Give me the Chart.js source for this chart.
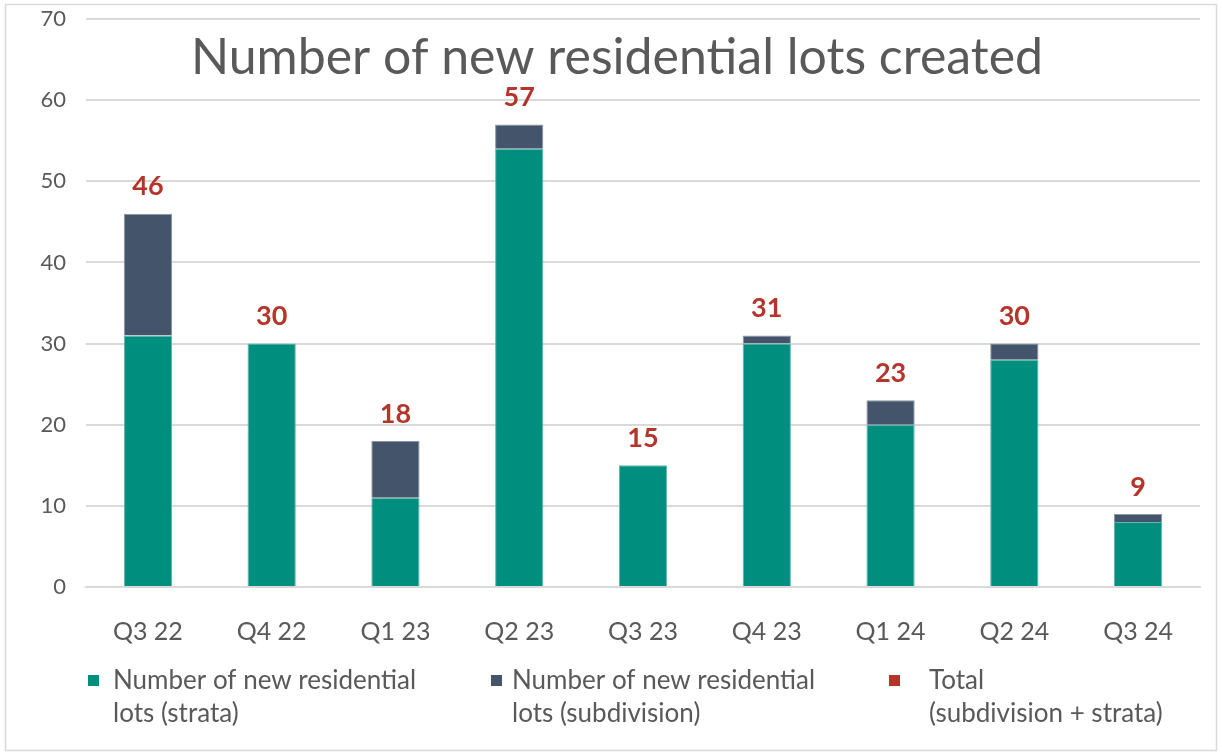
<!DOCTYPE html>
<html>
<head>
<meta charset="utf-8">
<script src="https://cdn.jsdelivr.net/npm/chart.js@4.4.1/dist/chart.umd.min.js"></script>
<style>
  html, body { margin: 0; padding: 0; background: #fff; }
  #wrap { position: relative; width: 1222px; height: 755px; }
</style>
</head>
<body>
<div id="wrap"><canvas id="lots" width="1222" height="755"></canvas></div>
<script>
// data
const quarters = ['Q3 22', 'Q4 22', 'Q1 23', 'Q2 23', 'Q3 23', 'Q4 23', 'Q1 24', 'Q2 24', 'Q3 24'];
const strata = [31, 30, 11, 54, 15, 30, 20, 28, 8];
const subdivision = [15, 0, 7, 3, 0, 1, 3, 2, 1];
const totals = [46, 30, 18, 57, 15, 31, 23, 30, 9];
const seriesNames = [
  ['Number of new residential', 'lots (strata)'],
  ['Number of new residential', 'lots (subdivision)'],
  ['Total', '(subdivision + strata)']
];
const yTicks = [0, 10, 20, 30, 40, 50, 60, 70];

const teal = '#008f7e';
const slate = '#44546a';
const red = '#b5352b';
const grey = '#595959';
const font = 'Lato, "Open Sans", sans-serif';

// title, total labels, legend and frame drawn on the canvas
const extras = {
  id: 'extras',
  beforeDraw(chart) {
    const c = chart.ctx;
    c.save();
    c.fillStyle = '#fff';
    c.fillRect(0, 0, chart.width, chart.height);
    c.strokeStyle = '#d9d9d9';
    c.lineWidth = 1.5;
    c.strokeRect(5.5, 4.5, 1211, 746);
    c.restore();
  },
  afterDraw(chart) {
    const c = chart.ctx;
    c.save();
    // title
    c.fillStyle = grey;
    c.font = '50px ' + font;
    c.textAlign = 'center';
    c.textBaseline = 'middle';
    c.fillText('Number of new residential lots created', 617, 58);

    // total labels
    const meta = chart.getDatasetMeta(2);
    c.fillStyle = red;
    c.font = 'bold 27px ' + font;
    meta.data.forEach((pt, i) => {
      c.fillText(String(totals[i]), pt.x, pt.y - 27);
    });

    // legend
    const colors = [teal, slate, red];
    const boxX = [88, 491, 889];
    const textX = [113, 512, 929];
    c.font = '26px ' + font;
    c.textAlign = 'left';
    seriesNames.forEach((lines, i) => {
      c.fillStyle = colors[i];
      c.fillRect(boxX[i], 675, 11, 11);
      c.fillStyle = grey;
      lines.forEach((t, j) => c.fillText(t, textX[i], 681 + j * 33));
    });
    c.restore();
  }
};

new Chart(document.getElementById('lots'), {
  data: {
    labels: quarters,
    datasets: [
      {
        type: 'bar',
        label: seriesNames[0].join(' '),
        data: strata,
        backgroundColor: teal,
        borderColor: '#5fb8ad',
        borderWidth: 1,
        stack: 'lots'
      },
      {
        type: 'bar',
        label: seriesNames[1].join(' '),
        data: subdivision,
        backgroundColor: slate,
        borderColor: '#8a96a6',
        borderWidth: 1,
        stack: 'lots'
      },
      {
        type: 'line',
        label: seriesNames[2].join(' '),
        data: totals,
        showLine: false,
        pointRadius: 0,
        borderColor: red,
        backgroundColor: red,
        stack: 'total'
      }
    ]
  },
  options: {
    responsive: false,
    animation: false,
    layout: { padding: { top: 19, right: 22, left: 0, bottom: 0 } },
    datasets: { bar: { categoryPercentage: 1, barPercentage: 0.39 } },
    plugins: {
      legend: { display: false },
      title: { display: false },
      tooltip: { enabled: false }
    },
    scales: {
      x: {
        stacked: true,
        grid: { display: false },
        border: { color: '#d9d9d9', width: 2 },
        ticks: { color: grey, font: { size: 25, family: font }, padding: 22, maxRotation: 0, autoSkip: false },
        afterFit(scale) {
          scale.height = 168;
          scale.paddingLeft = 0;
          scale.paddingRight = 0;
        }
      },
      y: {
        stacked: true,
        min: 0,
        max: 70,
        afterBuildTicks(scale) { scale.ticks = yTicks.map(v => ({ value: v })); },
        grid: { color: '#d9d9d9', lineWidth: 2, drawTicks: false },
        border: { display: false },
        ticks: { color: grey, font: { size: 22, family: font }, padding: 20 },
        afterFit(scale) {
          scale.width = 86;
          scale.paddingTop = 0;
          scale.paddingBottom = 0;
        }
      }
    }
  },
  plugins: [extras]
});
</script>
</body>
</html>
